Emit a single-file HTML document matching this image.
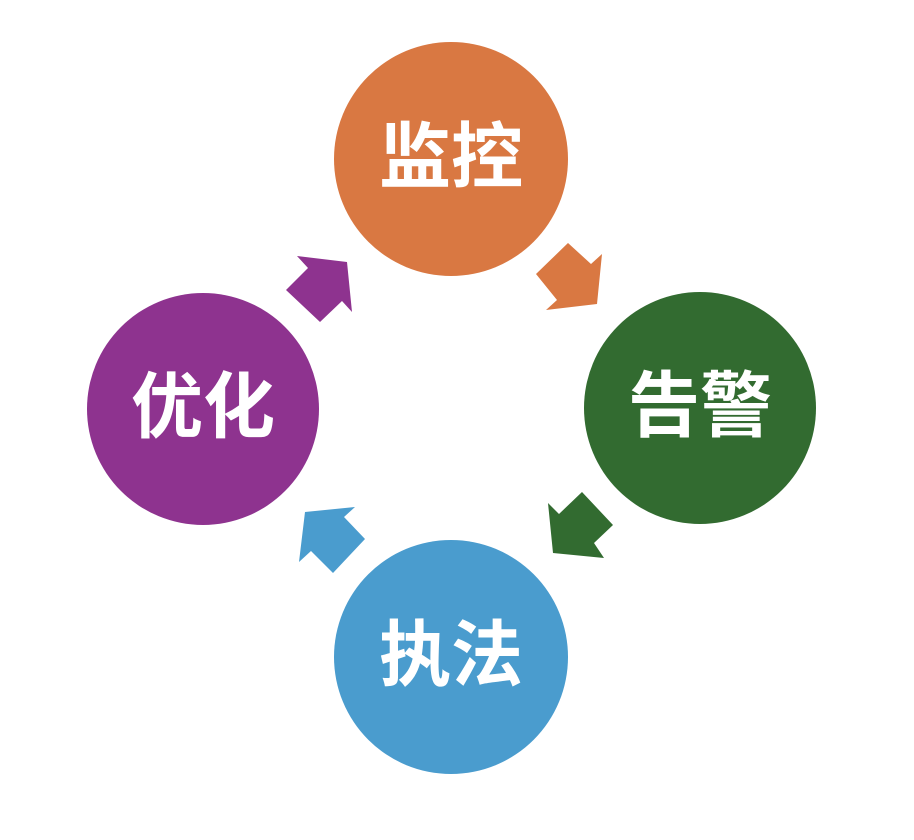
<!DOCTYPE html>
<html><head><meta charset="utf-8"><style>
html,body{margin:0;padding:0;background:#fff;}
</style></head><body>
<svg width="914" height="840" xmlns="http://www.w3.org/2000/svg" style="display:block">
<g font-family="Liberation Sans, Noto Sans CJK SC, sans-serif" font-weight="bold" font-size="72" fill="#fff" text-anchor="middle">
<circle cx="451" cy="159" r="117" fill="#D97842"/>
<circle cx="700" cy="408" r="116" fill="#326B30"/>
<circle cx="451" cy="657" r="117" fill="#4A9CCE"/>
<circle cx="203" cy="409" r="116" fill="#8E338F"/>
<polygon points="568,243 591,264 602,254 597,304 546,310 557,300 536,274" fill="#D97842"/>
<polygon points="582,492 613,525 594,543 604,558 553,553 548,503 559,514" fill="#326B30"/>
<polygon points="299,562 305,512 355,507 344,517 365,539 333,573 311,551" fill="#4A9CCE"/>
<polygon points="297,256 347,262 352,312 342,301 320,322 286,290 308,268" fill="#8E338F"/>
<text x="451" y="182">监控</text>
<text x="700" y="431">告警</text>
<text x="451" y="680">执法</text>
<text x="203" y="432">优化</text>
</g>
</svg>
</body></html>
